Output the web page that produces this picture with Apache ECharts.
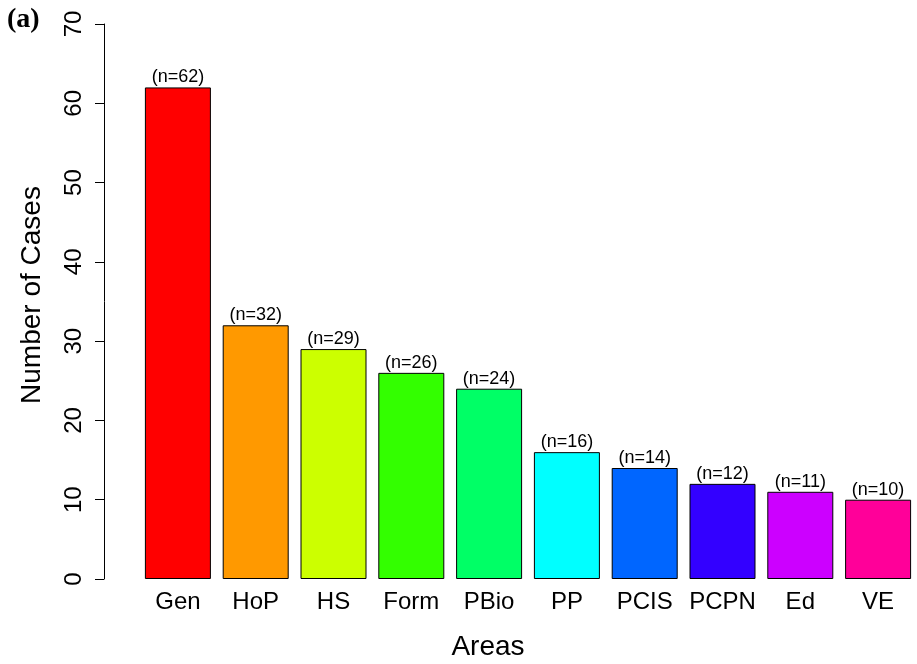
<!DOCTYPE html>
<html>
<head>
<meta charset="utf-8">
<script src="https://cdn.jsdelivr.net/npm/echarts@6/dist/echarts.min.js"></script>
<style>
html,body{margin:0;padding:0;background:#fff;}
#c{width:917px;height:664px;}
</style>
</head>
<body>
<div id="c"></div>
<script>
var categories = ['Gen','HoP','HS','Form','PBio','PP','PCIS','PCPN','Ed','VE'];
var values = [62,32,29,26,24,16,14,12,11,10];
var colors = ['#FF0000','#FF9900','#CCFF00','#33FF00','#00FF66','#00FFFF','#0066FF','#3300FF','#CC00FF','#FF0099'];
var yTicks = [0,10,20,30,40,50,60,70];

var chart = echarts.init(document.getElementById('c'), null, {renderer:'canvas'});
var font = 'Liberation Sans, Arial, Helvetica, sans-serif';
chart.setOption({
  animation:false,
  backgroundColor:'#ffffff',
  grid:{left:139, top:24, width:780, height:555, containLabel:false},
  xAxis:{
    type:'category',
    data:categories,
    axisLine:{show:false},
    axisTick:{show:false},
    axisLabel:{fontFamily:font, fontSize:24, color:'#000', margin:11, interval:0}
  },
  yAxis:{
    type:'value',
    min:yTicks[0], max:yTicks[yTicks.length-1], interval:10,
    offset:35,
    splitLine:{show:false},
    axisLine:{show:true, lineStyle:{color:'#000', width:1}},
    axisTick:{show:true, length:9, lineStyle:{color:'#000', width:1}},
    axisLabel:{fontFamily:font, fontSize:24, color:'#000', rotate:90, margin:18}
  },
  graphic:[
    {type:'text', left:7, top:6, style:{text:'(a)', font:'bold 28px "Liberation Serif", "Times New Roman", serif', fill:'#000'}},
    {type:'text', x:488, y:647, style:{text:'Areas', font:'28px "Liberation Sans", Arial, sans-serif', fill:'#000', textAlign:'center', textVerticalAlign:'middle'}},
    {type:'text', x:32, y:295, rotation:Math.PI/2, style:{text:'Number of Cases', font:'28px "Liberation Sans", Arial, sans-serif', fill:'#000', textAlign:'center', textVerticalAlign:'middle'}}
  ],
  series:[{
    type:'bar',
    barWidth:66,
    data:values.map(function(v,i){return {value:v, itemStyle:{color:colors[i]}};}),
    itemStyle:{borderColor:'#000', borderWidth:1},
    label:{show:true, position:'top', distance:1, formatter:'(n={c})', fontFamily:font, fontSize:18, color:'#000'}
  }]
});
</script>
</body>
</html>
